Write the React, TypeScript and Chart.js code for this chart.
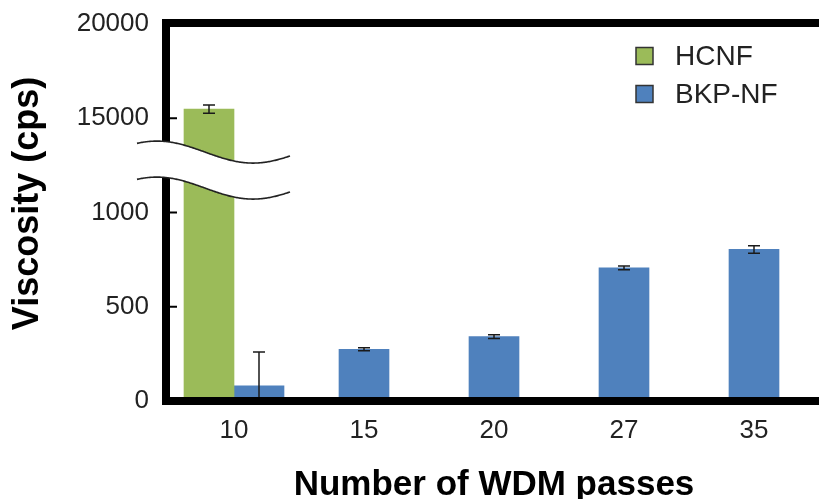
import React, { useEffect, useRef } from 'react';
import { Chart, registerables } from 'chart.js';

Chart.register(...registerables);

const categories = ['10', '15', '20', '27', '35'];
const hcnfValues: (number | null)[] = [15480, null, null, null, null];
const hcnfErrors: (number | null)[] = [220, null, null, null, null];
const bkpValues: (number | null)[] = [81, 274, 342, 706, 804];
const bkpErrors: (number | null)[] = [179, 8, 10, 10, 20];
const yTickValues = [0, 500, 1000, 15000, 20000];
const yTickLabels = ['0', '500', '1000', '15000', '20000'];

const GREEN = '#9BBB59';
const BLUE = '#4F81BD';
const FONT = "'Liberation Sans', Arial, sans-serif";

// piecewise mapping of real values onto the broken axis (one unit per tick interval)
function toAxis(v: number): number {
  const n = yTickValues.length;
  for (let i = 0; i < n - 1; i++) {
    const a = yTickValues[i];
    const b = yTickValues[i + 1];
    if (v <= b || i === n - 2) return i + (v - a) / (b - a);
  }
  return 0;
}

const decorPlugin = {
  id: 'decor',
  afterDatasetsDraw(chart: any) {
    const ctx = chart.ctx;
    const y = chart.scales.y;
    ctx.save();
    ctx.strokeStyle = '#1a1a1a';
    ctx.lineWidth = 1.5;
    chart.data.datasets.forEach((ds: any, di: number) => {
      const meta = chart.getDatasetMeta(di);
      meta.data.forEach((bar: any, i: number) => {
        const v = ds.raw[i];
        const e = ds.errors[i];
        if (v == null || e == null) return;
        const x = bar.x;
        const yt = y.getPixelForValue(toAxis(v + e));
        const yb = y.getPixelForValue(toAxis(Math.max(0, v - e)));
        ctx.beginPath();
        ctx.moveTo(x, yt);
        ctx.lineTo(x, yb);
        ctx.moveTo(x - 6, yt);
        ctx.lineTo(x + 6, yt);
        ctx.moveTo(x - 6, yb);
        ctx.lineTo(x + 6, yb);
        ctx.stroke();
      });
    });
    ctx.restore();
  },
  afterDraw(chart: any) {
    const ctx = chart.ctx;
    const { left, top, right, bottom } = chart.chartArea;
    const width = chart.width;
    const y = chart.scales.y;
    ctx.save();
    // frame
    ctx.fillStyle = '#000';
    ctx.fillRect(left - 7, top - 5, 8, bottom - top + 9);
    ctx.fillRect(left - 7, top - 5, width - left + 7, 8);
    ctx.fillRect(left - 7, bottom - 4, width - left + 7, 8);
    // inner tick marks
    for (let i = 1; i < yTickValues.length - 1; i++) {
      const py = y.getPixelForValue(i);
      ctx.fillRect(left - 1, py - 1, 9, 2);
    }
    // axis break
    const yMid = y.getPixelForValue(2.45);
    const x0 = left - 32;
    const x1 = left + 121;
    const phase = left - 12;
    const amp = 11;
    const curve = (x: number, c: number) => c - amp * Math.cos((2 * Math.PI * (x - phase)) / 192);
    const c1 = yMid - 18;
    const c2 = yMid + 18;
    ctx.beginPath();
    for (let x = x0; x <= x1; x += 1) {
      const yy = curve(x, c1);
      if (x === x0) ctx.moveTo(x, yy);
      else ctx.lineTo(x, yy);
    }
    for (let x = x1; x >= x0; x -= 1) ctx.lineTo(x, curve(x, c2));
    ctx.closePath();
    ctx.fillStyle = '#fff';
    ctx.fill();
    ctx.strokeStyle = '#222';
    ctx.lineWidth = 1.6;
    [c1, c2].forEach((c) => {
      ctx.beginPath();
      for (let x = x0; x <= x1; x += 1) {
        const yy = curve(x, c);
        if (x === x0) ctx.moveTo(x, yy);
        else ctx.lineTo(x, yy);
      }
      ctx.stroke();
    });
    // legend
    ctx.font = `28px ${FONT}`;
    ctx.textBaseline = 'middle';
    ctx.textAlign = 'left';
    chart.data.datasets.forEach((ds: any, i: number) => {
      const cy = top + 32 + i * 38;
      const sx = right - 183;
      ctx.fillStyle = ds.backgroundColor;
      ctx.fillRect(sx, cy - 8.5, 17, 17);
      ctx.strokeStyle = '#333';
      ctx.lineWidth = 1.5;
      ctx.strokeRect(sx, cy - 8.5, 17, 17);
      ctx.fillStyle = '#222';
      ctx.fillText(ds.label, sx + 39, cy + 1);
    });
    ctx.restore();
  },
};

export default function App() {
  const canvasRef = useRef<HTMLCanvasElement | null>(null);

  useEffect(() => {
    if (!canvasRef.current) return;
    const chart = new Chart(canvasRef.current, {
      type: 'bar',
      data: {
        labels: categories,
        datasets: [
          {
            label: 'HCNF',
            data: hcnfValues.map((v) => (v == null ? null : toAxis(v))),
            raw: hcnfValues,
            errors: hcnfErrors,
            backgroundColor: GREEN,
          } as any,
          {
            label: 'BKP-NF',
            data: bkpValues.map((v) => (v == null ? null : toAxis(v))),
            raw: bkpValues,
            errors: bkpErrors,
            backgroundColor: BLUE,
          } as any,
        ],
      },
      options: {
        animation: false,
        responsive: true,
        maintainAspectRatio: false,
        layout: { padding: 0 },
        datasets: { bar: { skipNull: true, barThickness: 50 } } as any,
        plugins: { legend: { display: false }, tooltip: { enabled: false } },
        scales: {
          x: {
            grid: { display: false, drawTicks: false },
            border: { display: false },
            ticks: { color: '#222', font: { family: FONT, size: 26 }, padding: 14 },
            title: {
              display: true,
              text: 'Number of WDM passes',
              color: '#000',
              font: { family: FONT, size: 35, weight: 'bold', lineHeight: 0.8 },
              padding: { top: 0, bottom: 0 },
            },
            afterFit: (s: any) => {
              s.height = 98;
              s.paddingLeft = 0;
              s.paddingRight = 0;
            },
          },
          y: {
            min: 0,
            max: 4,
            grid: { display: false, drawTicks: false },
            border: { display: false },
            ticks: {
              stepSize: 1,
              color: '#222',
              font: { family: FONT, size: 26 },
              padding: 20,
              callback: (v: any) => yTickLabels[v] ?? '',
            },
            title: {
              display: true,
              text: '\u2002Viscosity (cps)',
              color: '#000',
              font: { family: FONT, size: 36, weight: 'bold', lineHeight: 1 },
              padding: { top: 10, bottom: 0 },
            },
            afterFit: (s: any) => {
              s.width = 169;
              s.paddingTop = 24;
              s.paddingBottom = 0;
            },
          },
        },
      } as any,
      plugins: [decorPlugin],
    });
    return () => chart.destroy();
  }, []);

  return (
    <div style={{ position: 'fixed', left: 0, top: 0, width: 819, height: 499, background: '#fff' }}>
      <canvas ref={canvasRef} />
    </div>
  );
}
